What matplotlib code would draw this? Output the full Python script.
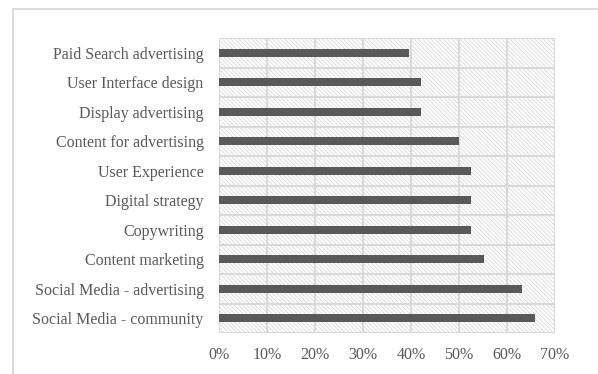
import matplotlib
matplotlib.use("Agg")
import matplotlib.pyplot as plt
from matplotlib.patches import Rectangle
from matplotlib.lines import Line2D
from matplotlib.ticker import PercentFormatter

# Share of respondents citing each skill area (%)
skills = [
    "Social Media - community",
    "Social Media - advertising",
    "Content marketing",
    "Copywriting",
    "Digital strategy",
    "User Experience",
    "Content for advertising",
    "Display advertising",
    "User Interface design",
    "Paid Search advertising",
]
shares = [65.8, 63.2, 55.3, 52.6, 52.6, 52.6, 50.0, 42.1, 42.1, 39.5]
x_ticks = [0, 10, 20, 30, 40, 50, 60, 70]

W, H = 598, 374
DPI = 100
GRID = "#d9d9d9"
TEXT = "#595959"
BAR = "#595959"

plt.rcParams["font.family"] = ["Liberation Serif", "DejaVu Serif"]
plt.rcParams["hatch.linewidth"] = 0.6

fig = plt.figure(figsize=(W / DPI, H / DPI), dpi=DPI)
ax = fig.add_axes([219 / W, 1 - 333 / H, (555 - 219) / W, (333 - 38) / H])

# hatched plot-area background
bg = Rectangle((0, 0), 1, 1, transform=ax.transAxes, facecolor="white",
               edgecolor="#dadada", linewidth=0, hatch="\\" * 8, zorder=0)
ax.add_patch(bg)

ypos = list(range(len(skills)))
ax.barh(ypos, shares, height=0.28, color=BAR, zorder=3)

ax.set_xlim(0, 70)
ax.set_ylim(-0.5, len(skills) - 0.5)
ax.set_xticks(x_ticks)
ax.xaxis.set_major_formatter(PercentFormatter(decimals=0))
ax.set_yticks(ypos)
ax.set_yticklabels(skills)

# grid: vertical at each tick, horizontal between categories
for v in x_ticks:
    ax.axvline(v, color=GRID, lw=1.5, zorder=1)
for k in range(len(skills) + 1):
    ax.axhline(k - 0.5, color=GRID, lw=1.5, zorder=1)

for s in ax.spines.values():
    s.set_visible(False)

ax.tick_params(axis="both", length=0, colors=TEXT, labelsize=11.5)
ax.tick_params(axis="y", pad=11)
ax.tick_params(axis="x", pad=10)

# outer chart border (left and top edges)
fig.add_artist(Line2D([13 / W, 13 / W], [0, 1 - 9 / H], color=GRID, lw=1.3,
                      transform=fig.transFigure))
fig.add_artist(Line2D([13 / W, 1], [1 - 9 / H, 1 - 9 / H], color=GRID, lw=1.3,
                      transform=fig.transFigure))

fig.savefig("out.png", dpi=DPI, facecolor="white")
